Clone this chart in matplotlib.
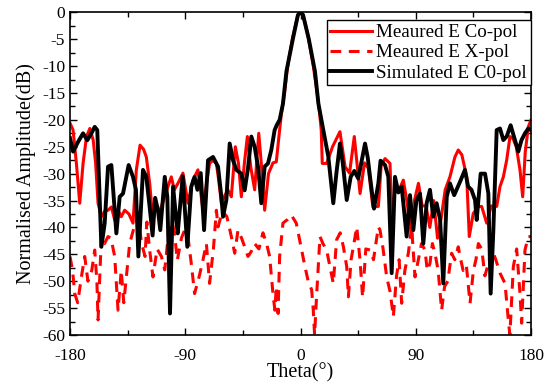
import matplotlib
matplotlib.use("Agg")
import matplotlib.pyplot as plt
from matplotlib.ticker import MultipleLocator

plt.rcParams['font.family'] = ['Liberation Serif', 'DejaVu Serif']
plt.rcParams['axes.unicode_minus'] = False

# Simulated E C0-pol (black)
sim_theta = [-180, -177.6, -173.7, -169.8, -166.5, -163.3, -160.7, -158.7, -155.5, -152.9,
             -150.3, -147.7, -143.8, -141.2, -138.6, -134.2, -130.8, -128.5, -126.6, -123,
             -120.4, -117.8, -115.5, -113.5, -111.3, -109.5, -106, -104, -101.9, -99.5,
             -97, -95.9, -92, -88.4, -85.3, -82.7, -80.5, -77.9, -75.3, -72.2,
             -68.3, -64.4, -61.8, -60.5, -57.9, -55.3, -52.7, -50.1, -46.2, -43.6,
             -41, -38.4, -35.8, -33, -30.6, -28, -25.4, -22.8, -20.2, -18.6,
             -16.3, -13.7, -11, -6, -2, 0, 2, 6.5, 11.3, 14,
             17.8, 21.7, 25.6, 28, 30.8, 33, 36.1, 39.2, 42, 45.1,
             47.5, 50.4, 52.5, 54.3, 57.4, 60.8, 62.5, 66, 68.6, 71.2,
             73.8, 76.4, 79, 82.9, 85.5, 88.1, 90.5, 93.3, 95.9, 98.5,
             101.1, 103.7, 106.3, 109, 111.5, 114.2, 116.7, 120, 124.6, 128.4,
             130.9, 133.5, 136.3, 137.6, 140.7, 144.1, 146.7, 148.5, 150.6, 153.2,
             155.8, 158.4, 161, 164.1, 166.7, 170.1, 172.6, 175.3, 177.9, 180]
sim_db = [-23.4, -25.9, -24.1, -22.5, -23.8, -22.5, -21.3, -21.9, -43.6, -39.2,
          -28.7, -28.4, -41.1, -34.3, -33.7, -28.4, -30.6, -33, -45.4, -29.3,
          -30.6, -36.2, -41.5, -34.5, -36.8, -40.5, -30.6, -34.3, -56, -32.4,
          -38.6, -41.1, -30.5, -43.6, -32.4, -30.6, -33, -29.9, -40.5, -27.5,
          -26.9, -28.7, -34.3, -38.0, -34.9, -24.4, -27.5, -29.3, -30, -33.1,
          -29, -23.1, -25, -29, -35.5, -28.7, -28.1, -25.6, -21.9, -21,
          -20, -17, -11, -5, -0.5, 0, -0.5, -5, -11, -17,
          -21.9, -26.8, -35.5, -30, -24.4, -28, -34.9, -30.6, -29.5, -30.9,
          -28, -24.4, -27, -30.6, -36.5, -31.8, -27.6, -28.4, -30.6, -48.5,
          -30.6, -33.5, -32.4, -41.7, -34, -40.5, -35, -33.7, -43, -35.5,
          -33, -38, -35.5, -38.5, -50.4, -34.3, -31.8, -34, -31.5, -29.3,
          -32.4, -33, -34.9, -38.6, -30, -30, -33.7, -52.3, -40.5, -21.9,
          -21.6, -23.75, -23.1, -21, -23.1, -25.9, -23.75, -22.5, -21.6, -21.9]

# Measured E Co-pol (red solid)
co_theta = [-180, -177.6, -175, -172.4, -169.8, -167.1, -164.5, -161.9, -160, -158.1,
            -155.5, -153, -150.3, -147.7, -145.1, -142.5, -140, -137.3, -134, -130.8,
            -128.2, -125.3, -122.5, -120.4, -117.8, -115.2, -113, -110.6, -107, -103.5,
            -100.9, -98.5, -95.7, -91.8, -87.9, -84, -80.1, -76.2, -73.5, -71,
            -68.3, -65.7, -64, -61.8, -59, -56.6, -54, -50.9, -48.5, -46.2,
            -43.8, -41.5, -38.9, -35.8, -32.6, -30.3, -28, -25, -21.5, -18.9,
            -16.8, -15, -12.5, -10, -6, -2, 0, 2, 6, 10,
            13, 15, 16.2, 17, 20.4, 25, 30.8, 34.8, 38.3, 42,
            46.5, 50, 53, 56.5, 60.8, 63, 66, 69.9, 71.5, 74,
            77, 80.3, 83, 86.8, 89, 92.1, 95, 98, 101, 104,
            107, 110, 113, 116.7, 120.6, 123.2, 126, 129.8, 131.8, 134.9,
            138.9, 141.5, 145.4, 149, 153.2, 155.8, 158.4, 161, 163.6, 166,
            168.5, 171.4, 173.5, 175.5, 177.9, 180]
co_db = [-20.6, -21.9, -28.1, -35.5, -28.1, -23.1, -21.6, -23.75, -28, -35.5,
         -38, -37, -36.8, -36.2, -38.6, -36.8, -38, -36.8, -37.5, -39.2,
         -29.3, -24.7, -25.5, -26.9, -31.8, -38.6, -36, -37.4, -35, -32.4,
         -30.6, -33, -31.8, -29.9, -35.5, -31.2, -29.3, -36.8, -32, -28.1,
         -27.5, -28.1, -31, -35.5, -34, -33.05, -34.3, -25, -28, -34.3,
         -28, -23.1, -28.7, -33, -22.5, -29, -36.8, -30, -28, -27.8,
         -23, -19, -15, -10, -4.5, -0.5, 0, -0.5, -4.5, -10,
         -15, -19, -21.9, -28.1, -28.1, -25, -22.2, -28.7, -29.9, -23.1,
         -33.7, -28, -29, -36.2, -36.1, -28.5, -27.2, -28.1, -40, -32,
         -33, -31.2, -35, -41.7, -35, -31.8, -36, -36, -40, -35,
         -42, -38, -33, -30.6, -26.9, -25.6, -26.5, -30.6, -41.7, -37.4,
         -36.1, -36.1, -39.2, -36, -36.1, -32.4, -30.6, -27.5, -23.1, -23.5,
         -25, -29.3, -34.3, -26, -21.3, -20]

# Measured E X-pol (red dashed)
x_theta = [-180, -178, -176.3, -174, -171.1, -168.5, -166, -163, -160.7, -159,
           -158.1, -155.5, -153, -150.3, -148, -145.1, -142.5, -140, -138, -136,
           -133.4, -130, -127, -124, -121.4, -120, -117.8, -115.2, -112, -108.6,
           -106, -103, -100, -98, -96.2, -93, -90.5, -87.9, -85.3, -82.7,
           -79, -76.2, -73.5, -71, -68, -65.7, -64.4, -61, -57.5, -54,
           -51.4, -48.8, -46, -43.6, -41, -38.5, -35.8, -32.5, -29.3, -26.5,
           -24.1, -21.5, -20, -18.9, -17.5, -16.3, -13.7, -10, -7.2, -3.3,
           -0.7, 1.5, 3.5, 6, 8.7, 10, 11, 12.5, 15.2, 17.5,
           20.4, 23, 25.6, 28.2, 31, 33.5, 36.1, 37.4, 39.5, 41.3,
           43.9, 46.5, 48.5, 51, 54.3, 57, 60.8, 62.1, 64.5, 67.3,
           70, 72.5, 75, 77, 79, 81.5, 84.2, 86.8, 89.4, 92,
           94.5, 97.2, 99, 101.1, 103, 105, 107.5, 110.2, 112.5, 115,
           118, 120.5, 123.2, 124.6, 127, 129.5, 132.4, 135, 137, 138.9,
           141.5, 144, 146.7, 149.5, 152.5, 155.8, 159.7, 162.3, 163.5, 166.2,
           168.8, 171.4, 172.7, 175.3, 177.9, 180]
x_db = [-45.4, -48, -52.3, -54, -49.2, -45.4, -50, -48, -44.2, -50,
        -57.2, -41.7, -43, -41.7, -42, -45.4, -55.4, -48, -54, -49.2,
        -43, -40, -38, -43, -45.4, -39, -44.2, -49.2, -44, -45.4,
        -47.9, -41, -39, -42, -46.1, -42, -40.5, -41.7, -46.7, -52.3,
        -49, -46.1, -43, -50.4, -44, -36.8, -39.9, -37, -38, -41.7,
        -44.8, -40.5, -42, -43.6, -45.4, -44.5, -43, -44, -41, -43,
        -45.4, -52.3, -55.4, -51, -56, -45.4, -39.2, -38.5, -37.7, -39.2,
        -42.3, -45, -47.3, -50, -51.6, -55.4, -60, -53, -41.7, -43,
        -44.2, -47.3, -50.4, -42.3, -41, -43.6, -47.3, -52.9, -46, -43.6,
        -39.9, -46.1, -53, -44, -44.2, -46, -39.9, -40.5, -44, -49.2,
        -52, -56.6, -49, -46, -54.1, -48, -44.8, -39.9, -49.2, -46,
        -43, -44.2, -48, -46.7, -43, -44.8, -48, -55.4, -51, -50,
        -44.8, -46, -43.6, -45.4, -48, -47, -54.1, -48, -46, -43,
        -44, -49, -46.7, -44, -46, -48.5, -50.4, -57.2, -60, -47.3,
        -44, -52.3, -57.8, -44.2, -41.7, -41.7]

x_ticks = [-180, -90, 0, 90, 180]
legend_labels = ["Meaured E Co-pol", "Meaured E X-pol", "Simulated E C0-pol"]

fig = plt.figure(figsize=(5.54, 3.87), dpi=100)
ax = fig.add_axes([70/554, 1-335/387, (531-70)/554, (335-12.3)/387])

l1, = ax.plot(co_theta, co_db, color='#ff0000', lw=2.2, solid_joinstyle='round')
l2, = ax.plot(x_theta, x_db, color='#ff0000', lw=2.2, linestyle=(0, (3.5, 2.5)))
l3, = ax.plot(sim_theta, sim_db, color='black', lw=2.8, solid_joinstyle='round')

ax.set_xlim(-180, 180)
ax.set_ylim(-60, 0)
ax.set_xticks(x_ticks)
ax.xaxis.set_minor_locator(MultipleLocator(45))
ax.yaxis.set_major_locator(MultipleLocator(5))
ax.yaxis.set_minor_locator(MultipleLocator(2.5))
ax.tick_params(which='both', direction='in', top=True, right=True, labelsize=12.5, width=1)
ax.tick_params(which='major', length=5)
ax.tick_params(which='minor', length=3.5)
ax.tick_params(axis='x', which='major', pad=9)
for s in ax.spines.values():
    s.set_linewidth(1.2)

ax.set_xlabel("Theta(°)", fontsize=14.5, labelpad=0)
ax.set_ylabel("Normalised Amplitude(dB)", fontsize=14.5, labelpad=4)

leg = ax.legend([l1, l2, l3], legend_labels, loc='upper right', bbox_to_anchor=(0.999, 0.976),
                borderaxespad=0, fontsize=13.7, frameon=True, fancybox=False,
                edgecolor='black', framealpha=1, handlelength=2.2, handletextpad=0.2,
                labelspacing=0.15, borderpad=0.2)
leg.get_frame().set_linewidth(1.0)

fig.savefig("out.png", dpi=100)
